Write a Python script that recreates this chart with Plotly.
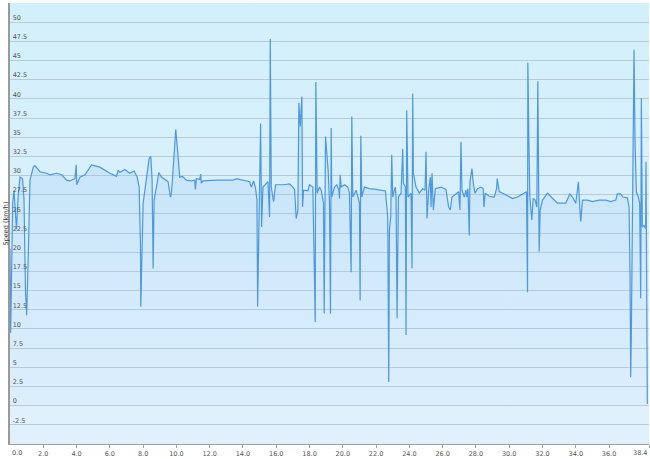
import base64
import plotly.graph_objects as go

# ---- data (distance in km, speed in km/h) ----
DIST = [
    0.00, 0.04, 0.16, 0.24, 0.33, 0.39, 0.48, 0.60, 0.75, 0.84,
    0.93, 1.00, 1.08, 1.20, 1.40, 1.50, 1.80, 2.20, 2.40, 2.80,
    3.10, 3.40, 3.60, 3.90, 3.98, 4.01, 4.20, 4.50, 4.90, 5.40,
    6.00, 6.40, 6.50, 6.60, 6.90, 7.20, 7.46, 7.64, 7.76, 7.84,
    7.86, 7.92, 8.00, 8.20, 8.36, 8.46, 8.54, 8.60, 8.66, 8.80,
    8.94, 9.10, 9.40, 9.50, 9.64, 9.70, 9.84, 9.96, 10.10, 10.20,
    10.36, 10.60, 10.90, 11.10, 11.14, 11.20, 11.40, 11.46, 11.50, 11.60,
    12.40, 13.40, 13.60, 14.00, 14.40, 14.50, 14.64, 14.76, 14.84, 14.88,
    14.96, 15.06, 15.12, 15.20, 15.50, 15.60, 15.64, 15.70, 15.84, 15.96,
    16.40, 16.80, 17.00, 17.10, 17.20, 17.30, 17.36, 17.44, 17.54, 17.58,
    17.64, 17.90, 18.00, 18.20, 18.34, 18.38, 18.46, 18.60, 18.70, 18.84,
    18.88, 18.96, 19.12, 19.20, 19.26, 19.30, 19.34, 19.50, 19.64, 19.76,
    19.80, 19.84, 19.90, 20.10, 20.30, 20.40, 20.50, 20.54, 20.60, 20.80,
    21.00, 21.04, 21.08, 21.14, 21.30, 21.60, 22.00, 22.30, 22.56, 22.70,
    22.76, 22.80, 22.88, 22.94, 23.00, 23.10, 23.16, 23.20, 23.26, 23.34,
    23.50, 23.60, 23.64, 23.76, 23.80, 23.84, 23.92, 24.10, 24.16, 24.20,
    24.24, 24.40, 24.60, 24.80, 24.94, 25.00, 25.06, 25.16, 25.26, 25.30,
    25.36, 25.44, 25.56, 25.90, 26.20, 26.36, 26.46, 26.56, 26.80, 26.96,
    27.04, 27.10, 27.16, 27.30, 27.40, 27.46, 27.52, 27.60, 27.64, 27.76,
    27.84, 27.94, 28.10, 28.30, 28.44, 28.48, 28.56, 28.80, 29.10, 29.24,
    29.28, 29.40, 29.70, 30.00, 30.20, 30.50, 30.80, 31.04, 31.10, 31.12,
    31.18, 31.24, 31.36, 31.44, 31.56, 31.66, 31.72, 31.76, 31.78, 31.80,
    31.86, 32.00, 32.30, 32.60, 32.90, 33.20, 33.40, 33.64, 33.80, 34.00,
    34.16, 34.24, 34.30, 34.40, 34.70, 35.00, 35.40, 35.80, 36.10, 36.40,
    36.50, 36.70, 36.84, 37.10, 37.20, 37.26, 37.30, 37.34, 37.40, 37.46,
    37.50, 37.56, 37.64, 37.76, 37.84, 37.90, 37.94, 38.00, 38.10, 38.20,
    38.22, 38.30,
]
SPEED = [
    20.5, 9.5, 26.4, 28.0, 25.0, 23.0, 27.0, 29.8, 29.6, 27.0,
    15.0, 11.8, 18.0, 29.4, 31.1, 31.3, 30.5, 30.3, 30.1, 30.3,
    30.1, 29.4, 29.3, 29.6, 31.4, 28.8, 29.8, 30.1, 31.4, 31.1,
    30.3, 29.9, 30.7, 30.4, 30.8, 30.3, 30.6, 29.8, 28.5, 21.1,
    12.9, 18.1, 26.4, 29.6, 32.2, 32.5, 29.4, 17.9, 26.8, 28.5,
    30.4, 29.8, 29.4, 29.2, 27.2, 27.7, 32.0, 36.0, 32.5, 29.8,
    29.9, 29.4, 29.3, 29.4, 28.2, 29.6, 29.5, 30.2, 29.0, 29.3,
    29.4, 29.4, 29.6, 29.4, 29.2, 28.5, 29.3, 28.3, 26.8, 12.9,
    24.6, 36.8, 23.3, 28.5, 29.2, 24.6, 47.8, 28.5, 26.6, 28.8,
    28.8, 28.9, 28.5, 28.2, 24.4, 25.5, 39.5, 36.4, 40.3, 25.9,
    28.1, 28.0, 28.8, 28.5, 10.9, 42.2, 27.7, 28.5, 28.1, 26.4,
    12.0, 35.1, 30.7, 26.4, 12.0, 36.2, 27.2, 28.5, 28.8, 28.1,
    27.0, 30.1, 28.5, 28.8, 28.5, 27.7, 17.4, 37.7, 27.2, 28.1,
    26.4, 13.7, 35.2, 27.2, 28.5, 28.3, 28.2, 28.1, 28.0, 24.6,
    3.1, 22.9, 24.6, 32.7, 27.2, 28.1, 28.5, 27.2, 11.4, 27.2,
    27.7, 33.5, 29.0, 28.5, 9.2, 38.5, 27.2, 27.7, 17.9, 40.7,
    30.3, 28.5, 27.7, 28.3, 28.1, 33.1, 24.4, 28.1, 29.8, 25.9,
    30.3, 25.5, 28.3, 28.5, 28.2, 25.9, 25.5, 27.2, 27.7, 27.9,
    25.5, 34.4, 28.1, 27.2, 28.1, 27.2, 28.3, 22.2, 29.2, 30.9,
    29.0, 27.7, 28.3, 28.5, 28.3, 25.9, 27.7, 27.3, 27.2, 28.3,
    29.6, 27.9, 27.6, 27.3, 27.0, 27.2, 27.6, 27.9, 14.8, 44.7,
    34.6, 27.2, 24.2, 27.0, 26.8, 25.9, 42.3, 22.5, 33.3, 20.1,
    25.5, 26.8, 27.7, 27.0, 26.4, 26.4, 26.4, 27.6, 27.2, 26.4,
    29.2, 25.9, 24.0, 26.8, 26.8, 26.6, 26.8, 26.8, 26.6, 26.8,
    27.6, 27.6, 27.2, 27.1, 25.9, 17.2, 3.7, 9.6, 21.6, 30.3,
    46.4, 34.6, 27.9, 27.2, 26.4, 14.0, 40.1, 23.3, 23.5, 23.1,
    31.8, 0.2,
]
assert len(DIST) == len(SPEED)

X_RANGE = [0.0, 38.4]
Y_RANGE = [-5.0, 52.5]
X_TICKS = [0.0, 2.0, 4.0, 6.0, 8.0, 10.0, 12.0, 14.0, 16.0, 18.0, 20.0,
           22.0, 24.0, 26.0, 28.0, 30.0, 32.0, 34.0, 36.0, 38.4]
X_TICK_LABELS = ["0.0", "2.0", "4.0", "6.0", "8.0", "10.0", "12.0", "14.0",
                 "16.0", "18.0", "20.0", "22.0", "24.0", "26.0", "28.0",
                 "30.0", "32.0", "34.0", "36.0", "38.4"]
Y_TICKS = [-2.5, 0, 2.5, 5, 7.5, 10, 12.5, 15, 17.5, 20, 22.5, 25, 27.5,
           30, 32.5, 35, 37.5, 40, 42.5, 45, 47.5, 50]
Y_TICK_LABELS = ["-2.5", "0", "2.5", "5", "7.5", "10", "12.5", "15", "17.5",
                 "20", "22.5", "25", "27.5", "30", "32.5", "35", "37.5", "40",
                 "42.5", "45", "47.5", "50"]
Y_TITLE = "Speed (km/h)"

FONT = "DejaVu Sans"

# background gradient as an inline svg image
svg = ('<svg xmlns="http://www.w3.org/2000/svg" width="10" height="100" '
       'viewBox="0 0 10 100" preserveAspectRatio="none">'
       '<defs><linearGradient id="g" x1="0" y1="0" x2="0" y2="1">'
       '<stop offset="0" stop-color="#d2f0fb"/>'
       '<stop offset="1" stop-color="#e1f0fd"/>'
       '</linearGradient></defs>'
       '<rect width="10" height="100" fill="url(#g)"/></svg>')
bg_src = "data:image/svg+xml;base64," + base64.b64encode(svg.encode()).decode()

fig = go.Figure()
fig.add_trace(go.Scatter(
    x=DIST, y=SPEED, mode="lines",
    line=dict(color="#4d98de", width=1.2),
    fill="tozeroy",
    fillgradient=dict(
        type="vertical",
        colorscale=[[0, "rgba(170,205,245,0.06)"], [1, "rgba(120,175,238,0.30)"]],
        start=0, stop=50,
    ),
    hoverinfo="skip", showlegend=False,
))

# first / last x labels aligned to the plot edges
tick_text = list(X_TICK_LABELS)
first_label, last_label = tick_text[0], tick_text[-1]
tick_text[0] = ""
tick_text[-1] = ""

fig.update_layout(
    width=650, height=459,
    margin=dict(l=10, r=1, t=3, b=15),
    paper_bgcolor="white",
    plot_bgcolor="rgba(0,0,0,0)",
    font=dict(family=FONT, size=7, color="#555555"),
    images=[dict(source=bg_src, xref="paper", yref="paper", x=0, y=1,
                 sizex=1, sizey=1, xanchor="left", yanchor="top",
                 sizing="stretch", layer="below")],
    xaxis=dict(
        range=X_RANGE, tickmode="array", tickvals=X_TICKS, ticktext=tick_text,
        showgrid=False, zeroline=False,
        showline=True, linecolor="#a0a0a0", linewidth=1,
        ticks="outside", ticklen=3, tickcolor="#a0a0a0",
        tickfont=dict(size=6.5, color="#555555"),
        automargin=False,
    ),
    yaxis=dict(
        range=Y_RANGE, tickmode="array", tickvals=Y_TICKS, ticktext=Y_TICK_LABELS,
        showgrid=True, gridcolor="#b7cbd6", gridwidth=1, zeroline=False,
        showline=True, linecolor="#9a9a9a", linewidth=2,
        ticks="", ticklabelposition="inside top",
        tickfont=dict(size=6.5, color="#555555"),
        automargin=False,
    ),
    annotations=[
        dict(text=Y_TITLE, xref="paper", yref="paper", x=0, y=0.5, xshift=-5,
             textangle=-90, xanchor="center", yanchor="middle", showarrow=False,
             font=dict(family=FONT, size=6.5, color="#333333")),
        dict(text=first_label, xref="x", yref="paper", x=X_TICKS[0], y=0,
             xanchor="left", yanchor="top", yshift=-3, showarrow=False,
             font=dict(family=FONT, size=6.5, color="#555555")),
        dict(text=last_label, xref="x", yref="paper", x=X_TICKS[-1], y=0,
             xanchor="right", yanchor="top", yshift=-3, showarrow=False,
             font=dict(family=FONT, size=6.5, color="#555555")),
    ],
)

fig.write_html(
    "out.html",
    config={"displayModeBar": False},
    post_script="document.body.style.margin='0';document.body.style.overflow='hidden';",
)
